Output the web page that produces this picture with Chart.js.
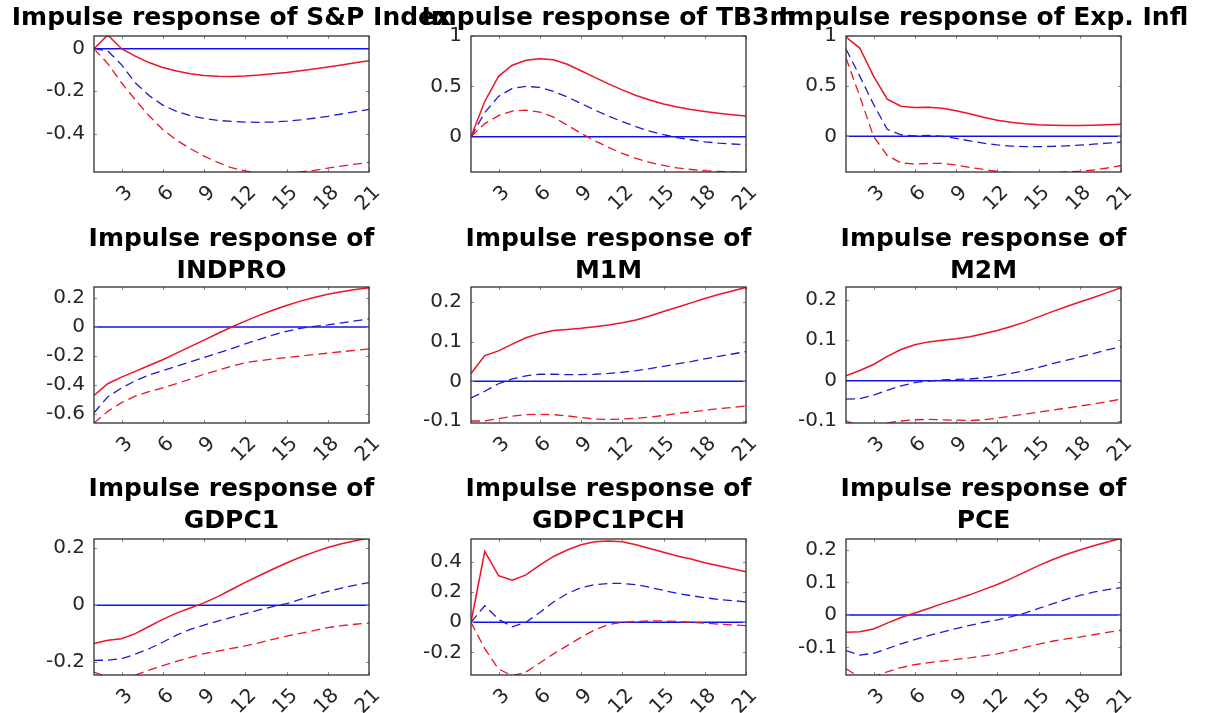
<!DOCTYPE html>
<html>
<head>
<meta charset="utf-8">
<script src="https://cdn.jsdelivr.net/npm/chart.js@4"></script>
<style>
  html, body { margin: 0; padding: 0; background: #fff; }
  body { width: 1205px; height: 713px; position: relative; overflow: hidden; }
  canvas { position: absolute; }
  .title {
    position: absolute; width: 600px; text-align: center; color: #000;
    font: bold 25px "DejaVu Sans", sans-serif; line-height: 32px; white-space: nowrap;
  }
</style>
</head>
<body>
<script>
// horizons and axis ticks
const horizons = [1, 2, 3, 4, 5, 6, 7, 8, 9, 10, 11, 12, 13, 14, 15, 16, 17, 18, 19, 20, 21];
const xTicks = [3, 6, 9, 12, 15, 18, 21];

// S&P Index
const spUpper  = [0, 0.065, 0, -0.035, -0.065, -0.088, -0.105, -0.118, -0.126, -0.129, -0.13, -0.128, -0.124, -0.118, -0.112, -0.104, -0.095, -0.086, -0.076, -0.066, -0.056];
const spMedian = [0, -0.01, -0.075, -0.16, -0.22, -0.265, -0.295, -0.315, -0.328, -0.337, -0.342, -0.345, -0.346, -0.345, -0.341, -0.335, -0.327, -0.318, -0.307, -0.296, -0.285];
const spLower  = [0, -0.07, -0.16, -0.24, -0.315, -0.38, -0.43, -0.47, -0.505, -0.535, -0.56, -0.575, -0.585, -0.588, -0.585, -0.58, -0.572, -0.562, -0.552, -0.543, -0.535];

// TB3m
const tbUpper  = [0, 0.35, 0.6, 0.71, 0.76, 0.775, 0.765, 0.72, 0.655, 0.59, 0.525, 0.465, 0.41, 0.365, 0.325, 0.295, 0.27, 0.25, 0.233, 0.218, 0.205];
const tbMedian = [0, 0.24, 0.4, 0.48, 0.5, 0.49, 0.45, 0.395, 0.33, 0.265, 0.205, 0.15, 0.1, 0.055, 0.02, -0.008, -0.03, -0.05, -0.063, -0.072, -0.078];
const tbLower  = [0, 0.13, 0.21, 0.255, 0.265, 0.245, 0.195, 0.115, 0.035, -0.04, -0.105, -0.165, -0.215, -0.255, -0.285, -0.31, -0.325, -0.337, -0.345, -0.35, -0.355];

// Exp. Infl
const eiUpper  = [0.99, 0.88, 0.6, 0.37, 0.3, 0.288, 0.29, 0.28, 0.255, 0.225, 0.19, 0.16, 0.14, 0.125, 0.115, 0.11, 0.108, 0.108, 0.11, 0.115, 0.12];
const eiMedian = [0.87, 0.6, 0.32, 0.07, 0.015, 0.005, 0.01, 0, -0.02, -0.045, -0.068, -0.085, -0.097, -0.102, -0.103, -0.1, -0.095, -0.088, -0.078, -0.068, -0.058];
const eiLower  = [0.78, 0.4, 0, -0.19, -0.265, -0.275, -0.27, -0.27, -0.285, -0.31, -0.33, -0.35, -0.36, -0.365, -0.365, -0.362, -0.355, -0.347, -0.335, -0.315, -0.29];

// INDPRO
const ipUpper  = [-0.47, -0.39, -0.345, -0.305, -0.265, -0.225, -0.18, -0.135, -0.09, -0.045, 0, 0.04, 0.08, 0.115, 0.148, 0.178, 0.203, 0.225, 0.243, 0.258, 0.27];
const ipMedian = [-0.59, -0.48, -0.42, -0.37, -0.33, -0.3, -0.27, -0.24, -0.21, -0.18, -0.148, -0.116, -0.086, -0.055, -0.03, -0.01, 0.005, 0.015, 0.028, 0.042, 0.056];
const ipLower  = [-0.66, -0.58, -0.52, -0.475, -0.445, -0.418, -0.39, -0.358, -0.325, -0.298, -0.27, -0.245, -0.232, -0.22, -0.21, -0.2, -0.19, -0.18, -0.17, -0.16, -0.15];

// M1M
const m1Upper  = [0.02, 0.065, 0.077, 0.094, 0.11, 0.121, 0.128, 0.131, 0.134, 0.138, 0.142, 0.148, 0.155, 0.165, 0.176, 0.187, 0.198, 0.209, 0.219, 0.228, 0.237];
const m1Median = [-0.042, -0.025, -0.006, 0.006, 0.014, 0.018, 0.018, 0.017, 0.017, 0.018, 0.02, 0.023, 0.027, 0.032, 0.038, 0.044, 0.05, 0.057, 0.063, 0.069, 0.075];
const m1Lower  = [-0.1, -0.1, -0.094, -0.088, -0.084, -0.083, -0.084, -0.087, -0.091, -0.095, -0.096, -0.095, -0.093, -0.09, -0.086, -0.081, -0.077, -0.073, -0.069, -0.066, -0.062];

// M2M
const m2Upper  = [0.012, 0.025, 0.04, 0.06, 0.077, 0.089, 0.096, 0.1, 0.104, 0.109, 0.116, 0.124, 0.134, 0.145, 0.158, 0.171, 0.183, 0.195, 0.206, 0.218, 0.23];
const m2Median = [-0.046, -0.045, -0.036, -0.024, -0.013, -0.005, -0.001, 0.002, 0.003, 0.004, 0.007, 0.012, 0.018, 0.025, 0.033, 0.042, 0.05, 0.059, 0.067, 0.076, 0.084];
const m2Lower  = [-0.1, -0.112, -0.11, -0.105, -0.1, -0.097, -0.096, -0.097, -0.098, -0.099, -0.097, -0.093, -0.088, -0.083, -0.078, -0.073, -0.068, -0.063, -0.058, -0.052, -0.046];

// GDPC1
const gdUpper  = [-0.135, -0.123, -0.118, -0.1, -0.075, -0.05, -0.028, -0.01, 0.008, 0.03, 0.055, 0.08, 0.103, 0.126, 0.148, 0.168, 0.186, 0.202, 0.215, 0.226, 0.236];
const gdMedian = [-0.194, -0.193, -0.188, -0.172, -0.153, -0.13, -0.105, -0.085, -0.07, -0.056, -0.043, -0.03, -0.017, -0.005, 0.005, 0.02, 0.035, 0.048, 0.06, 0.07, 0.079];
const gdLower  = [-0.235, -0.252, -0.252, -0.245, -0.228, -0.212, -0.197, -0.183, -0.17, -0.161, -0.152, -0.143, -0.132, -0.12, -0.109, -0.099, -0.089, -0.079, -0.072, -0.067, -0.063];

// GDPC1PCH
const gpUpper  = [0, 0.47, 0.31, 0.28, 0.315, 0.38, 0.437, 0.48, 0.515, 0.535, 0.54, 0.535, 0.515, 0.49, 0.465, 0.44, 0.42, 0.395, 0.375, 0.355, 0.335];
const gpMedian = [0, 0.11, 0.02, -0.03, 0, 0.065, 0.135, 0.19, 0.23, 0.25, 0.258, 0.258, 0.25, 0.232, 0.212, 0.192, 0.177, 0.163, 0.152, 0.144, 0.136];
const gpLower  = [0, -0.175, -0.31, -0.355, -0.33, -0.27, -0.21, -0.155, -0.1, -0.05, -0.015, 0, 0.006, 0.009, 0.009, 0.005, 0, -0.006, -0.012, -0.017, -0.022];

// PCE
const pcUpper  = [-0.053, -0.052, -0.043, -0.025, -0.008, 0.006, 0.02, 0.035, 0.048, 0.062, 0.078, 0.094, 0.112, 0.132, 0.152, 0.17, 0.186, 0.2, 0.213, 0.225, 0.236];
const pcMedian = [-0.11, -0.124, -0.118, -0.104, -0.089, -0.076, -0.064, -0.053, -0.042, -0.032, -0.023, -0.015, -0.006, 0.006, 0.02, 0.034, 0.048, 0.06, 0.07, 0.078, 0.084];
const pcLower  = [-0.166, -0.192, -0.19, -0.175, -0.162, -0.153, -0.147, -0.142, -0.137, -0.132, -0.126, -0.12, -0.111, -0.1, -0.09, -0.081, -0.074, -0.068, -0.061, -0.054, -0.047];

// panel titles, y limits and y ticks
const titleLines = [
  ['Impulse response of S&P Index'], ['Impulse response of TB3m'], ['Impulse response of Exp. Infl'],
  ['Impulse response of', 'INDPRO'], ['Impulse response of', 'M1M'], ['Impulse response of', 'M2M'],
  ['Impulse response of', 'GDPC1'], ['Impulse response of', 'GDPC1PCH'], ['Impulse response of', 'PCE']
];
const yMins = [-0.58, -0.35, -0.355, -0.66, -0.105, -0.105, -0.245, -0.35, -0.185];
const yMaxs = [0.06, 1, 1, 0.275, 0.238, 0.232, 0.232, 0.553, 0.234];
const yTickSets = [
  [-0.4, -0.2, 0], [0, 0.5, 1], [0, 0.5, 1],
  [-0.6, -0.4, -0.2, 0, 0.2], [-0.1, 0, 0.1, 0.2], [-0.1, 0, 0.1, 0.2],
  [-0.2, 0, 0.2], [-0.2, 0, 0.2, 0.4], [-0.1, 0, 0.1, 0.2]
];
const uppers  = [spUpper, tbUpper, eiUpper, ipUpper, m1Upper, m2Upper, gdUpper, gpUpper, pcUpper];
const medians = [spMedian, tbMedian, eiMedian, ipMedian, m1Median, m2Median, gdMedian, gpMedian, pcMedian];
const lowers  = [spLower, tbLower, eiLower, ipLower, m1Lower, m2Lower, gdLower, gpLower, pcLower];

// layout of the subplot grid
const colLeft = [94, 471, 846];
const rowTop = [36, 287, 539];
const titleTop = [1, 222, 472];
const plotW = 275, plotH = 136;
// top padding has to beat the y axis' own label padding (half a line + tick padding)
const padL = 90, padT = 26, padR = 30, padB = 50;

const RED = '#ec1426';
const BLUE = '#1c1ccf';
const ZERO = '#1212f0';
const tickFont = { family: 'DejaVu Sans', size: 20 };

// box around the axes plus small inward ticks, as MATLAB does with "box on"
const matlabBox = {
  id: 'matlabBox',
  afterDatasetsDraw(chart) {
    const { ctx, chartArea: a, scales } = chart;
    ctx.save();
    ctx.lineWidth = 1;
    ctx.strokeStyle = '#8c8c8c';
    ctx.beginPath();
    scales.x.ticks.forEach(t => {
      const px = Math.round(scales.x.getPixelForValue(t.value)) + 0.5;
      ctx.moveTo(px, a.bottom); ctx.lineTo(px, a.bottom - 3);
      ctx.moveTo(px, a.top); ctx.lineTo(px, a.top + 3);
    });
    scales.y.ticks.forEach(t => {
      const py = Math.round(scales.y.getPixelForValue(t.value)) + 0.5;
      ctx.moveTo(a.left, py); ctx.lineTo(a.left + 3, py);
      ctx.moveTo(a.right, py); ctx.lineTo(a.right - 3, py);
    });
    ctx.stroke();
    ctx.lineWidth = 1.3;
    ctx.strokeStyle = '#2e2e2e';
    ctx.strokeRect(a.left, a.top, a.right - a.left, a.bottom - a.top);
    ctx.restore();
  }
};

function pts(arr) {
  return horizons.map((h, i) => ({ x: h, y: arr[i] }));
}

function fmt(v) {
  return String(Number(v.toFixed(2)));
}

for (let i = 0; i < 9; i++) {
  const col = i % 3, row = Math.floor(i / 3);
  const left = colLeft[col], top = rowTop[row];

  const canvas = document.createElement('canvas');
  canvas.width = padL + plotW + padR;
  canvas.height = padT + plotH + padB;
  canvas.style.left = (left - padL) + 'px';
  canvas.style.top = (top - padT) + 'px';
  document.body.appendChild(canvas);

  const title = document.createElement('div');
  title.className = 'title';
  title.style.left = (left + plotW / 2 - 300) + 'px';
  title.style.top = titleTop[row] + 'px';
  title.innerHTML = titleLines[i].map(s => s.replace('&', '&amp;')).join('<br>');
  document.body.appendChild(title);

  new Chart(canvas, {
    type: 'line',
    data: {
      datasets: [
        { data: pts(uppers[i]), borderColor: RED, borderWidth: 1.5 },
        { data: pts(medians[i]), borderColor: BLUE, borderWidth: 1.3, borderDash: [9, 5] },
        { data: pts(lowers[i]), borderColor: RED, borderWidth: 1.3, borderDash: [9, 5] },
        { data: pts(horizons.map(() => 0)), borderColor: ZERO, borderWidth: 1.5 }
      ]
    },
    options: {
      responsive: false,
      animation: false,
      devicePixelRatio: 1,
      layout: { padding: { left: 0, top: padT, right: padR, bottom: 0 } },
      elements: { point: { radius: 0 }, line: { tension: 0, fill: false } },
      plugins: { legend: { display: false }, tooltip: { enabled: false } },
      scales: {
        x: {
          type: 'linear', min: 1, max: 21,
          grid: { display: false, drawTicks: false },
          border: { display: false },
          afterBuildTicks: s => { s.ticks = xTicks.map(v => ({ value: v })); },
          afterFit: s => { s.height = padB; },
          ticks: {
            autoSkip: false, minRotation: 45, maxRotation: 45,
            padding: 9, labelOffset: 8, color: '#262626', font: tickFont,
            callback: v => String(v)
          }
        },
        y: {
          min: yMins[i], max: yMaxs[i],
          grid: { display: false, drawTicks: false },
          border: { display: false },
          afterBuildTicks: s => { s.ticks = yTickSets[i].map(v => ({ value: v })); },
          afterFit: s => { s.width = padL; },
          ticks: { padding: 9, color: '#262626', font: tickFont, callback: v => fmt(v) }
        }
      }
    },
    plugins: [matlabBox]
  });
}
</script>
</body>
</html>
